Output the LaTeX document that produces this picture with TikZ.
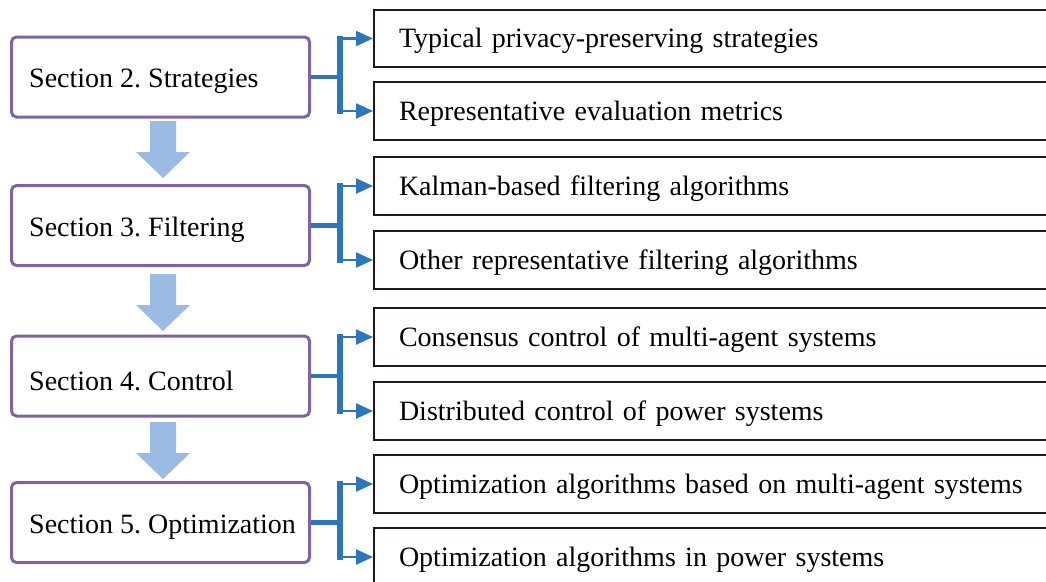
\documentclass[tikz,border=0pt]{standalone}
\usepackage{fontspec}
\setmainfont{Liberation Serif}
\usetikzlibrary{arrows.meta}
\definecolor{secpurple}{RGB}{128,100,162}
\definecolor{brblue}{RGB}{46,117,188}
\definecolor{arrblue}{RGB}{155,187,227}
\definecolor{boxblack}{RGB}{35,24,21}
\tikzset{
  secbox/.style={draw=secpurple, line width=3pt, rounded corners=5pt, anchor=west,
    minimum width=298pt, minimum height=80pt},
  sectext/.style={anchor=west, inner sep=0pt, font=\fontsize{28}{34}\selectfont\frenchspacing},
  topicbox/.style={draw=boxblack, line width=2pt, anchor=west,
    minimum width=760pt, minimum height=57.5pt, text width=710pt, inner xsep=25pt,
    text height=20pt, text depth=2pt,
    align=left, font=\fontsize{28}{34}\selectfont\frenchspacing},
  stem/.style={draw=brblue, line width=4.5pt},
  bar/.style={draw=brblue, line width=6pt, line cap=rect},
  branch/.style={draw=brblue, line width=2.2pt, -{Triangle[length=17pt,width=15pt]}},
  dnarrow/.style={fill=arrblue}
}
\begin{document}
\begin{tikzpicture}[x=1pt,y=-1pt]
\useasboundingbox (0,0) rectangle (1046,581);
\clip (0,0) rectangle (1046,581);
\fill[white] (0,0) rectangle (1046,581);

% left section boxes
\node[secbox] (s2) at (10,77) {};
\node[secbox] (s3) at (10,225.5) {};
\node[secbox] (s4) at (10,376) {};
\node[secbox] (s5) at (10,522.5) {};
\node[sectext] (s2t) at ([xshift=19pt,yshift=-4.5pt]s2.west) {Section 2. Strategies};
\node[sectext] (s3t) at ([xshift=19pt,yshift=-4.5pt]s3.west) {Section 3. Filtering};
\node[sectext] (s4t) at ([xshift=19pt,yshift=-4.5pt]s4.west) {Section 4. Control};
\node[sectext] (s5t) at ([xshift=19pt,yshift=-4.5pt]s5.west) {Section 5. Optimization};

% right topic boxes
\node[topicbox] (t1) at (373,38.5) {Typical privacy-preserving strategies};
\node[topicbox] (t2) at (373,111) {Representative evaluation metrics};
\node[topicbox] (t3) at (373,186) {Kalman-based filtering algorithms};
\node[topicbox] (t4) at (373,260) {Other representative filtering algorithms};
\node[topicbox] (t5) at (373,337) {Consensus control of multi-agent systems};
\node[topicbox] (t6) at (373,411) {Distributed control of power systems};
\node[topicbox] (t7) at (373,484) {Optimization algorithms based on multi-agent systems};
\node[topicbox] (t8) at (373,557) {Optimization algorithms in power systems};

% bracket connectors
\foreach \s/\a/\b in {s2/t1/t2, s3/t3/t4, s4/t5/t6, s5/t7/t8}{
  \coordinate (bx-\s) at (340,0);
  \draw[stem] (\s.east) -- (\s.east -| bx-\s);
  \draw[bar] (bx-\s |- \a.west) -- (bx-\s |- \b.west);
  \draw[branch] (bx-\s |- \a.west) -- (\a.west);
  \draw[branch] (bx-\s |- \b.west) -- (\b.west);
}

% down arrows between sections
\foreach \y in {121,274,422}{
  \begin{scope}[shift={(163,\y)}]
    \fill[dnarrow] (-13,0) -- (13,0) -- (13,31) -- (27,31) -- (0,57) -- (-27,31) -- (-13,31) -- cycle;
  \end{scope}
}
\end{tikzpicture}
\end{document}
